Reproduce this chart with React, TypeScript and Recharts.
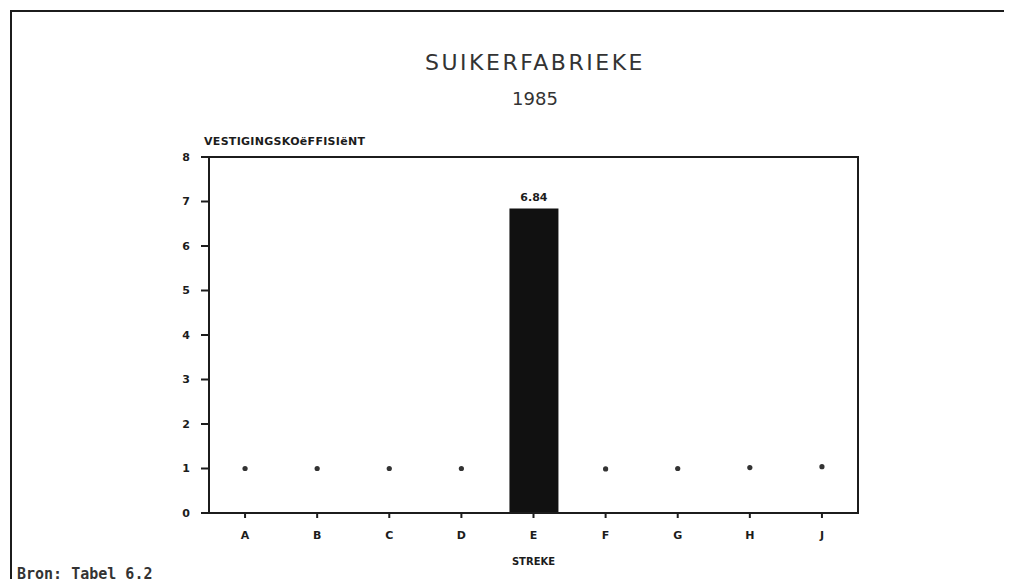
import { Bar, ComposedChart, LabelList, ReferenceArea, Scatter, XAxis, YAxis } from 'recharts'

const categories = ['A', 'B', 'C', 'D', 'E', 'F', 'G', 'H', 'J']
const barValues = [null, null, null, null, 6.84, null, null, null, null]
const dotValues = [1, 1, 1, 1, null, 0.99, 1, 1.02, 1.04]
const yTicks = [0, 1, 2, 3, 4, 5, 6, 7, 8]

const data = categories.map((name, i) => ({ name, bar: barValues[i], dot: dotValues[i] }))

const ink = '#1c1c1c'
const tickFont = { fontFamily: 'DejaVu Sans', fontSize: 11, fontWeight: 700, fill: ink }

export default function App() {
  return (
    <div style={{ position: 'relative', width: 1012, height: 587, margin: -8, background: '#fff', overflow: 'hidden' }}>
      <div style={{ position: 'absolute', left: 10, top: 10, width: 1000, height: 600, borderLeft: `2px solid ${ink}`, borderTop: `2px solid ${ink}`, borderRight: `2px solid ${ink}` }} />
      <div style={{ position: 'absolute', left: 0, width: 1070, top: 50, textAlign: 'center', fontFamily: 'DejaVu Sans', fontSize: 22, letterSpacing: 2.5, color: '#333' }}>
        SUIKERFABRIEKE
      </div>
      <div style={{ position: 'absolute', left: 0, width: 1070, top: 88, textAlign: 'center', fontFamily: 'DejaVu Sans', fontSize: 18, color: '#333' }}>
        1985
      </div>
      <div style={{ position: 'absolute', left: 204, top: 135, fontFamily: 'DejaVu Sans', fontSize: 11, fontWeight: 700, color: ink, letterSpacing: 0.3 }}>
        VESTIGINGSKOëFFISIëNT
      </div>
      <div style={{ position: 'absolute', left: 17, top: 565, fontFamily: 'DejaVu Sans Mono', fontSize: 15, fontWeight: 700, color: '#333' }}>
        Bron: Tabel 6.2
      </div>
      <div style={{ position: 'absolute', left: 0, top: 0 }}>
        <ComposedChart width={1012} height={587} data={data} margin={{ top: 157, right: 154, bottom: 44, left: 0 }}>
          <XAxis
            dataKey="name"
            stroke={ink}
            strokeWidth={2}
            tickSize={5}
            tickMargin={13}
            tick={tickFont}
            label={{ value: 'STREKE', position: 'insideBottom', offset: -22, style: { ...tickFont, fontSize: 10 } }}
          />
          <YAxis
            domain={[0, 8]}
            ticks={yTicks}
            stroke={ink}
            strokeWidth={2}
            tickSize={8}
            tickMargin={11}
            width={209}
            tick={tickFont}
          />
          <ReferenceArea y1={0} y2={8} fill="none" stroke={ink} strokeWidth={2} />
          <Bar dataKey="bar" fill="#111" barSize={49} isAnimationActive={false}>
            <LabelList dataKey="bar" position="top" offset={8} formatter={(v: any) => (v == null ? '' : Number(v).toFixed(2))} style={tickFont} />
          </Bar>
          <Scatter dataKey="dot" fill="#333" isAnimationActive={false} shape={(p: any) => (p.payload.dot == null ? <g /> : <circle cx={p.cx} cy={p.cy} r={2.6} fill="#333" />)} />
        </ComposedChart>
      </div>
    </div>
  )
}
